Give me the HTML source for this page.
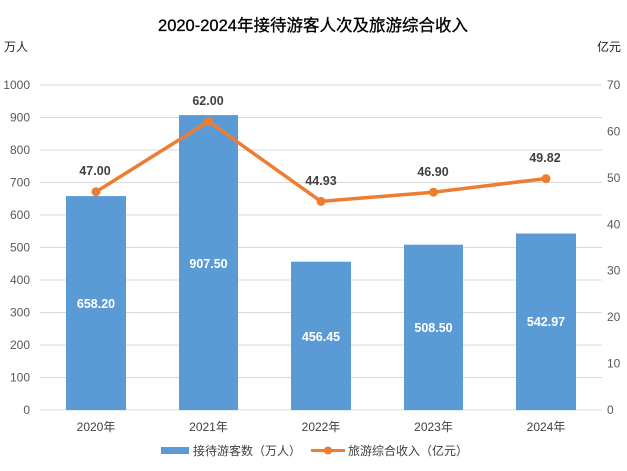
<!DOCTYPE html>
<html><head><meta charset="utf-8"><style>
body{margin:0;background:#fff}
svg text{font-family:"Liberation Sans","Noto Sans CJK SC",sans-serif}
</style></head><body>
<svg width="627" height="466" xmlns="http://www.w3.org/2000/svg">
<text x="313" y="31" font-size="16.5" text-anchor="middle" fill="#000" stroke="#000" stroke-width="0.3">2020-2024年接待游客人次及旅游综合收入</text>
<text x="4" y="51" font-size="12" fill="#222">万人</text>
<text x="597" y="51" font-size="12" fill="#222">亿元</text>
<g stroke="#d9d9d9" stroke-width="1">
<line x1="40" x2="602" y1="85" y2="85"/><line x1="40" x2="602" y1="117.5" y2="117.5"/>
<line x1="40" x2="602" y1="150" y2="150"/><line x1="40" x2="602" y1="182.5" y2="182.5"/>
<line x1="40" x2="602" y1="215" y2="215"/><line x1="40" x2="602" y1="247.5" y2="247.5"/>
<line x1="40" x2="602" y1="280" y2="280"/><line x1="40" x2="602" y1="312.5" y2="312.5"/>
<line x1="40" x2="602" y1="345" y2="345"/><line x1="40" x2="602" y1="377.5" y2="377.5"/>
<line x1="40" x2="602" y1="410" y2="410"/>
</g>
<g font-size="12" fill="#595959" text-anchor="end">
<text x="30" y="89">1000</text><text x="30" y="121.5">900</text><text x="30" y="154">800</text>
<text x="30" y="186.5">700</text><text x="30" y="219">600</text><text x="30" y="251.5">500</text>
<text x="30" y="284">400</text><text x="30" y="316.5">300</text><text x="30" y="349">200</text>
<text x="30" y="381.5">100</text><text x="30" y="414">0</text>
</g>
<g font-size="12" fill="#595959" text-anchor="start">
<text x="607" y="89">70</text><text x="607" y="135.4">60</text><text x="607" y="181.9">50</text>
<text x="607" y="228.3">40</text><text x="607" y="274.7">30</text><text x="607" y="321.1">20</text>
<text x="607" y="367.6">10</text><text x="607" y="414">0</text>
</g>
<g fill="#5b9bd5">
<rect x="66" y="196.1" width="60" height="213.9"/>
<rect x="179" y="115.1" width="59" height="294.9"/>
<rect x="291" y="261.7" width="60" height="148.3"/>
<rect x="404" y="244.7" width="59" height="165.3"/>
<rect x="516" y="233.5" width="60" height="176.5"/>
</g>
<g font-size="12.5" font-weight="bold" fill="#fff" text-anchor="middle">
<text x="96" y="308">658.20</text><text x="208.5" y="268">907.50</text>
<text x="321" y="341">456.45</text><text x="433.5" y="332">508.50</text><text x="546" y="326">542.97</text>
</g>
<polyline points="96,191.8 208.5,121.4 321,201.4 433.5,192.2 546,178.6" fill="none" stroke="#ed7d31" stroke-width="3.5" stroke-linejoin="round"/>
<g fill="#ed7d31">
<circle cx="96" cy="191.8" r="4.5"/><circle cx="208.5" cy="121.4" r="4.5"/><circle cx="321" cy="201.4" r="4.5"/>
<circle cx="433.5" cy="192.2" r="4.5"/><circle cx="546" cy="178.6" r="4.5"/>
</g>
<g font-size="12.5" font-weight="bold" fill="#404040" text-anchor="middle">
<text x="95" y="175">47.00</text><text x="208" y="105">62.00</text><text x="321" y="185">44.93</text>
<text x="433" y="176">46.90</text><text x="545" y="162">49.82</text>
</g>
<g font-size="12" fill="#404040" text-anchor="middle">
<text x="96" y="431">2020年</text><text x="208.5" y="431">2021年</text><text x="321" y="431">2022年</text>
<text x="433.5" y="431">2023年</text><text x="546" y="431">2024年</text>
</g>
<rect x="161" y="447" width="28" height="7" fill="#5b9bd5"/>
<text x="193" y="455" font-size="12" fill="#404040">接待游客数（万人）</text>
<line x1="311" x2="345" y1="450.5" y2="450.5" stroke="#ed7d31" stroke-width="3"/>
<circle cx="328" cy="450.5" r="4" fill="#ed7d31"/>
<text x="348" y="455" font-size="12" fill="#404040">旅游综合收入（亿元）</text>
</svg>
</body></html>
